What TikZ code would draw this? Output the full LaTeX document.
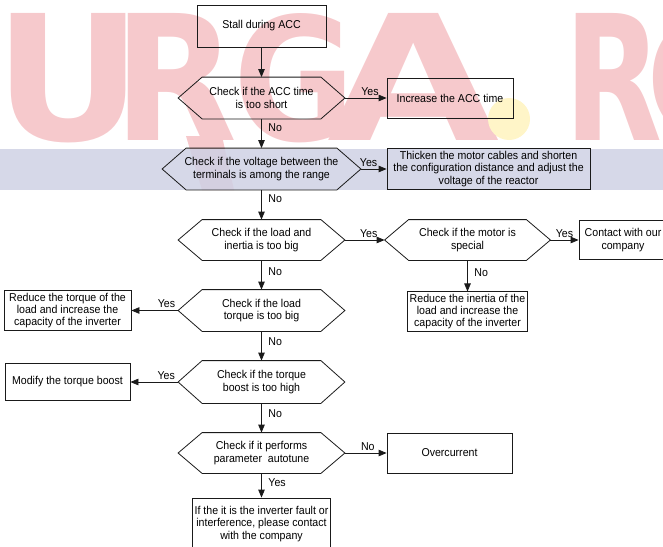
\documentclass[tikz,border=0pt]{standalone}
\usepackage{fontspec}
\usepackage{graphicx}
\setmainfont{Liberation Sans}[FakeStretch=0.93]
\newfontfamily\wmfont{DejaVu Sans}
\usetikzlibrary{arrows.meta}
\definecolor{cline}{HTML}{1A1A1A}
\definecolor{cpink}{HTML}{F6C9CC}
\definecolor{cband}{HTML}{CFD1E4}
\definecolor{cdot}{HTML}{FFF5C8}
\tikzset{
  every picture/.style={font=\fontsize{11.4}{12.3}\selectfont, line width=0.8pt},
  box/.style={draw=cline, align=center, inner sep=2pt, minimum height=40pt},
  decide/.style={align=center, inner sep=0pt, minimum width=166pt, minimum height=41pt},
  arrow/.style={-{Triangle[length=8pt, width=6.5pt]}, draw=cline},
  lbl/.style={inner sep=2pt},
  nolbl/.style={inner sep=1.5pt, right, xshift=5pt},
}

\begin{document}
\begin{tikzpicture}[x=1pt, y=-1pt]
  \useasboundingbox (0,0) rectangle (663,546);
  \clip (0,0) rectangle (663,546);
  % watermark behind the chart
  \foreach \ch/\x/\w [count=\i] in {U/-6/148, R/113/124, G/233/122, A/327/172, R/564/98, O/644/152}
    \node[anchor=north west, inner sep=0pt, text=cpink] (wm\i) at (\x,13) {\resizebox{\w pt}{127pt}{\wmfont\bfseries\ch}};
  \fill[cpink] (186,136) -- (222,136) -- (234,190) -- (202,190) -- cycle;
  \fill[cband, opacity=0.85] (0,149) rectangle (663,190);
  \fill[cdot] (509,119) circle (21pt);

  % main column
  \node[box, minimum width=129pt, minimum height=42pt] (stall) at (261.5,26) {Stall during ACC};
  \node[decide] (acc) at (261.5,98) {Check if the ACC time\\is too short};
  \node[decide, minimum width=198pt] (volt) at (261.5,169) {Check if the voltage between the\\terminals is among the range};
  \node[decide, minimum height=40pt] (inertia) at (261.5,240) {Check if the load and\\inertia is too big};
  \node[decide] (ltorque) at (261.5,310.5) {Check if the load\\torque is too big};
  \node[decide, minimum height=42pt] (boost) at (261.5,382) {Check if the torque\\boost is too high};
  \node[decide, minimum height=40pt] (tune) at (261.5,453) {Check if it performs\\parameter\ \ autotune};
  \node[box, minimum width=124pt, minimum height=52pt] (fault) at (261.5,524) {If the it is the inverter fault or\\interference, please contact\\with the company};

  % side boxes
  \node[box, minimum width=126pt] (incacc) at (450,98) {Increase the ACC time};
  \node[box, minimum width=203pt, minimum height=41pt] (cable) at (488.5,169) {Thicken the motor cables and shorten\\the configuration distance and adjust the\\voltage of the reactor};
  \node[decide, minimum width=165pt, minimum height=40pt] (motor) at (467.5,240) {Check if the motor is\\special};
  \node[box, minimum width=88pt, minimum height=39pt] (contact) at (623,240) {Contact with our\\company};
  \node[box, minimum width=120pt, minimum height=37pt] (redinert) at (467.5,311.5) {Reduce the inertia of the\\load and increase the\\capacity of the inverter};
  \node[box, minimum width=127pt] (redtorque) at (67.5,310.5) {Reduce the torque of the\\load and increase the\\capacity of the inverter};
  \node[box, minimum width=125pt, minimum height=37pt] (modify) at (67.5,382) {Modify the torque boost};
  \node[box, minimum width=125pt] (overcur) at (449.5,453) {Overcurrent};

  % hexagon outlines
  \foreach \h in {acc, volt, inertia, motor, ltorque, boost, tune}
    \draw[cline] (\h.west) -- ([xshift=24pt]\h.north west) -- ([xshift=-24pt]\h.north east)
      -- (\h.east) -- ([xshift=-24pt]\h.south east) -- ([xshift=24pt]\h.south west) -- cycle;

  \draw[arrow] (stall) -- (acc);
  \draw[arrow] (acc) -- node[lbl, above, pos=0.6] (yes1) {Yes} (incacc);
  \draw[arrow] (acc) -- node[nolbl, pos=0.3] (no1) {No} (volt);
  \draw[arrow] (volt) -- node[lbl, above, pos=0.3] (yes2) {Yes} (cable);
  \draw[arrow] (volt) -- node[nolbl, pos=0.28] (no2) {No} (inertia);
  \draw[arrow] (inertia) -- node[lbl, above, pos=0.6] (yes3) {Yes} (motor);
  \draw[arrow] (motor) -- node[lbl, above, pos=0.5] (yes4) {Yes} (contact);
  \draw[arrow] (motor) -- node[nolbl, pos=0.4] (no4) {No} (redinert);
  \draw[arrow] (inertia) -- node[nolbl, pos=0.4] (no3) {No} (ltorque);
  \draw[arrow] (ltorque) -- node[lbl, above, pos=0.25] (yes5) {Yes} (redtorque);
  \draw[arrow] (ltorque) -- node[nolbl, pos=0.35] (no5) {No} (boost);
  \draw[arrow] (boost) -- node[lbl, above, pos=0.25] (yes6) {Yes} (modify);
  \draw[arrow] (boost) -- node[nolbl, pos=0.35] (no6) {No} (tune);
  \draw[arrow] (tune) -- node[lbl, above, pos=0.55] (no7) {No} (overcur);
  \draw[arrow] (tune) -- node[nolbl, pos=0.4] (yes7) {Yes} (fault);
\end{tikzpicture}
\end{document}
